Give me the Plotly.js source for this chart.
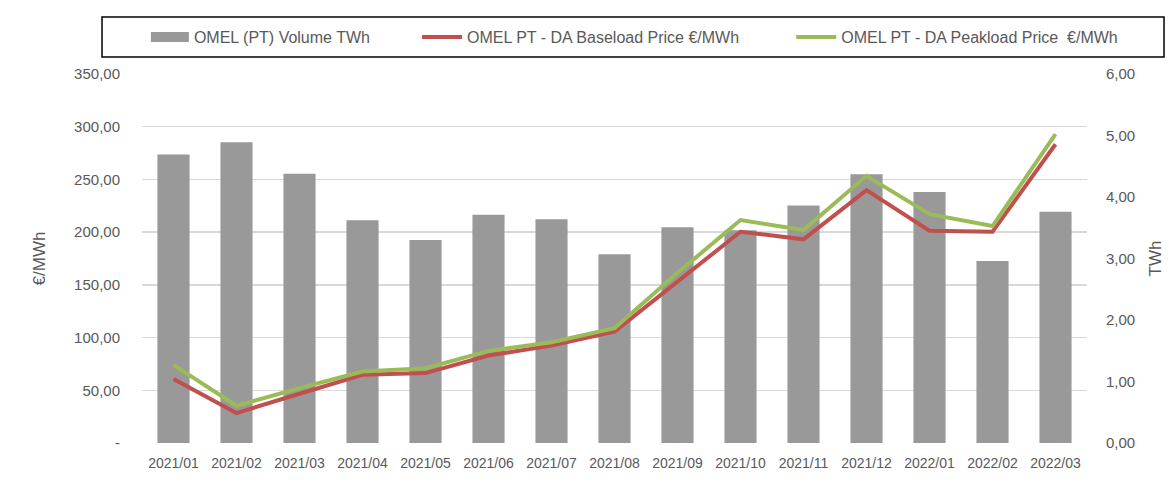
<!DOCTYPE html>
<html>
<head>
<meta charset="utf-8">
<script src="https://cdn.plot.ly/plotly-3.0.1.min.js"></script>
<style>html,body{margin:0;padding:0;background:#fff;}#chart{width:1169px;height:486px;}</style>
</head>
<body>
<div id="chart"></div>
<script>
const months = ["2021/01","2021/02","2021/03","2021/04","2021/05","2021/06","2021/07","2021/08","2021/09","2021/10","2021/11","2021/12","2022/01","2022/02","2022/03"];
const volumeTWh = [4.69,4.89,4.38,3.62,3.30,3.71,3.64,3.07,3.51,3.46,3.86,4.37,4.08,2.96,3.76];
const baseloadPrice = [60.6,28.4,46.7,64.7,66.3,83.0,92.4,105.7,153.0,200.4,193.2,239.9,201.3,200.4,283.4];
const peakloadPrice = [74.1,35.3,52.0,67.8,71.0,87.4,95.6,108.9,161.4,211.5,202.0,253.4,217.1,205.8,292.9];
const leftTickVals = [0,50,100,150,200,250,300,350];
const leftTickText = ["-","50,00","100,00","150,00","200,00","250,00","300,00","350,00"];
const rightTickVals = [0,1,2,3,4,5,6];
const rightTickText = ["0,00","1,00","2,00","3,00","4,00","5,00","6,00"];

const font = "Liberation Sans, Arial, sans-serif";
const grey = "#595959";

const traces = [
  {type:"bar", name:"OMEL (PT) Volume TWh", x:months, y:volumeTWh, yaxis:"y",
   marker:{color:"#999999"}, legend:"legend"},
  {type:"scatter", mode:"lines", name:"OMEL PT - DA Baseload Price €/MWh", x:months, y:baseloadPrice, yaxis:"y2",
   line:{color:"#C0504D", width:4}, legend:"legend2"},
  {type:"scatter", mode:"lines", name:"OMEL PT - DA Peakload Price  €/MWh", x:months, y:peakloadPrice, yaxis:"y2",
   line:{color:"#9BBB59", width:4}, legend:"legend3"}
];

function leg(x){
  return {orientation:"h", x:x, xanchor:"left", y:1.10, yanchor:"middle", itemwidth:40,
          font:{family:font, size:16, color:grey}, bgcolor:"rgba(0,0,0,0)", borderwidth:0};
}

const layout = {
  width:1169, height:486,
  margin:{l:142, r:82, t:74, b:43},
  paper_bgcolor:"#fff", plot_bgcolor:"#fff",
  font:{family:font, color:grey, size:15},
  bargap:0.49,
  showlegend:true,
  legend:leg(0.002),
  legend2:leg(0.291),
  legend3:leg(0.687),
  xaxis:{type:"category", showgrid:false, zeroline:false, showline:false, ticks:"",
         tickfont:{size:14, color:grey}, ticklabelstandoff:10},
  yaxis:{side:"right", range:[0,6], tickvals:rightTickVals, ticktext:rightTickText,
         showgrid:false, zeroline:false, showline:false, ticklabelstandoff:18,
         tickfont:{size:15, color:grey},
         title:{text:"TWh", font:{size:17, color:grey}, standoff:14}},
  yaxis2:{side:"left", overlaying:"y", range:[0,350], tickvals:leftTickVals, ticktext:leftTickText,
          showgrid:true, gridcolor:"#D9D9D9", gridwidth:1.5, zeroline:false, showline:false,
          ticklabelstandoff:21, tickfont:{size:15, color:grey},
          title:{text:"€/MWh", font:{size:17, color:grey}, standoff:24}},
  shapes:[{type:"rect", xref:"paper", yref:"paper", x0:-0.0423, x1:1.0815, y0:1.046, y1:1.1545,
           line:{color:"#000", width:1.5}, fillcolor:"rgba(0,0,0,0)"}]
};

Plotly.newPlot("chart", traces, layout, {displayModeBar:false, staticPlot:true}).then(function(gd){
  // widen the bar legend swatch to a flat rectangle like the reference
  gd.querySelectorAll(".legend .legendpoints path.legendundefined, .legend .legendbar path, .legend .legendpoints path").forEach(function(p){
    var d = p.getAttribute("d") || "";
    if (/^M6,6H-6V-6H6Z$/.test(d.replace(/\s/g,""))) {
      p.setAttribute("d","M20,5H-18V-5H20Z");
    }
  });
});
</script>
</body>
</html>
